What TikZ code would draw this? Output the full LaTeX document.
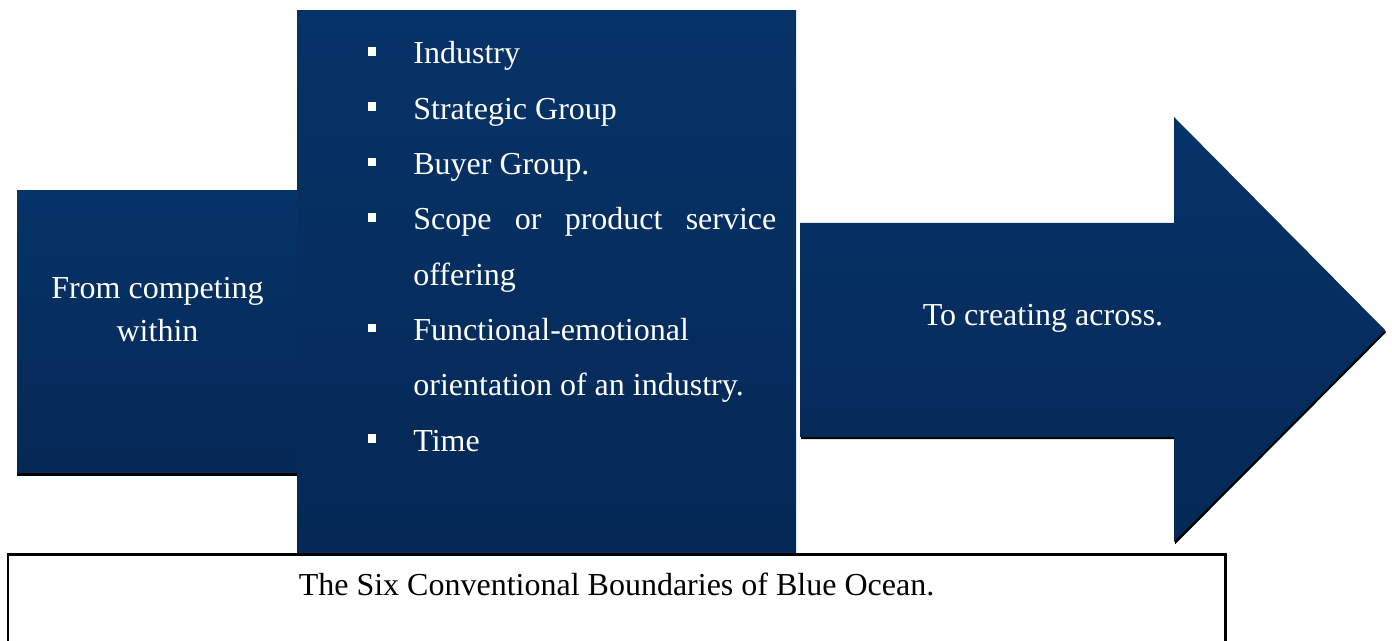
\documentclass[tikz,border=0pt]{standalone}
\usepackage{fontspec}
\setmainfont{Liberation Serif}
\definecolor{navyTop}{RGB}{6,51,104}
\definecolor{navyBot}{RGB}{5,40,86}
\begin{document}
\begin{tikzpicture}[x=0.5pt,y=-0.5pt,
  panel/.style={top color=navyTop, bottom color=navyBot, draw=none},
  drop/.style={fill=black, draw=none},
  lbl/.style={text=white, font=\fontsize{16}{19}\selectfont, inner sep=0pt, anchor=base},
  itm/.style={text=white, font=\fontsize{16}{19}\selectfont, inner sep=0pt, anchor=base west},
  sq/.style={fill=white, draw=none, minimum size=4.4pt, inner sep=0pt},
  caption/.style={text=black, font=\fontsize{16}{19}\selectfont, inner sep=0pt, anchor=base},
]
\useasboundingbox (0,0) rectangle (1392,641);
\clip (0,0) rectangle (1392,641);

% left panel with its bottom shadow
\fill[drop] (17,473) rectangle (297,476);
\path[panel] (17,191) rectangle (297,473);

% central panel listing the boundaries
\fill[drop] (297,552) rectangle (796,555);
\path[panel] (297,11) rectangle (796,553);

% block arrow pointing right
\fill[drop, shift={(1.2,2.2)}] (800,223) -- (1174,223) -- (1174,117) -- (1385,330)
  -- (1174,542) -- (1174,437) -- (800,437) -- cycle;
\path[panel] (800,223) -- (1174,223) -- (1174,117) -- (1385,330)
  -- (1174,542) -- (1174,437) -- (800,437) -- cycle;

% caption frame
\draw[line width=1.4pt, fill=white] (8,554.5) rectangle (1225.5,700);

% left panel text
\node[lbl] (from1) at (157.5,299) {From competing};
\node[lbl] (from2) at (157.5,342) {within};

% list items
\node[sq] (b1) at (372,51.5) {};
\node[itm] (i1) at (413,64) {Industry};
\node[sq] (b2) at (372,106.8) {};
\node[itm] (i2) at (413,119.3) {Strategic Group};
\node[sq] (b3) at (372,162.1) {};
\node[itm] (i3) at (413,174.6) {Buyer Group.};
\node[sq] (b4) at (372,217.4) {};
\node[itm] (i4) at (413,229.9) {\hbox to 181.5pt{Scope\hfil or\hfil product\hfil service}};
\node[itm] (i4b) at (413,285.2) {offering};
\node[sq] (b5) at (372,328) {};
\node[itm] (i5) at (413,340.5) {Functional-emotional};
\node[itm] (i5b) at (413,395.8) {orientation of an industry.};
\node[sq] (b6) at (372,438.6) {};
\node[itm] (i6) at (413,451.1) {Time};

% arrow text
\node[lbl] (to) at (1043,326) {To creating across.};

% caption
\node[caption] (cap) at (616.5,595) {The Six Conventional Boundaries of Blue Ocean.};
\end{tikzpicture}
\end{document}
